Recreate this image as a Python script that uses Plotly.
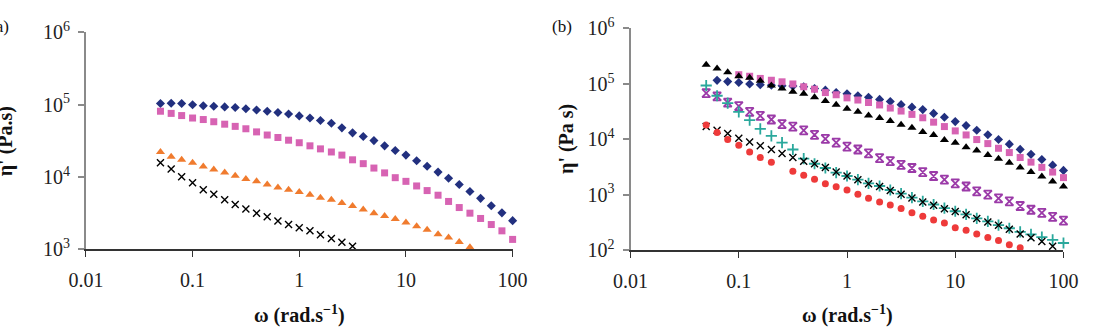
import plotly.graph_objects as go

W, H = 1094, 327

# Angular frequency (rad/s), 10 points per decade
omega = [0.05, 0.063, 0.079, 0.1, 0.126, 0.158, 0.2, 0.251, 0.316, 0.398,
         0.501, 0.631, 0.794, 1.0, 1.26, 1.58, 2.0, 2.51, 3.16, 3.98,
         5.01, 6.31, 7.94, 10.0, 12.6, 15.8, 20.0, 25.1, 31.6, 39.8,
         50.1, 63.1, 79.4, 100.0]

# Panel (a): complex viscosity (Pa.s)
a_diamond = [104000, 105000, 104000, 100000, 97000, 95300, 93300, 91600, 87900, 84500,
             81300, 78200, 74500, 70100, 65500, 60500, 55500, 47900, 40800, 36300,
             31900, 27000, 23300, 20100, 16800, 14100, 11700, 9620, 7890, 6300,
             5070, 4010, 3190, 2490]
a_square = [81300, 75900, 70800, 65500, 62400, 58200, 53800, 50200, 46500, 42100,
            38100, 35200, 32300, 29800, 27000, 24500, 22200, 20100, 17300, 15300,
            13300, 11400, 9790, 8710, 7520, 6490, 5600, 4590, 3780, 3160,
            2670, 2200, 1800, 1370]
a_triangle = [22200, 19100, 17300, 15700, 14000, 12700, 11500, 10400, 9420, 8710,
              7890, 7160, 6680, 6180, 5700, 5180, 4830, 4370, 3980, 3550,
              3160, 2880, 2630, 2340, 2090, 1860, 1620, 1450, 1260, 1070]
a_cross = [15700, 12900, 10100, 8300, 6680, 5770, 4830, 4170, 3600, 3160,
           2810, 2470, 2200, 1990, 1800, 1590, 1410, 1250, 1100, 1000]

# Panel (b): dynamic viscosity eta' (Pa s)
b_diamond = [None, 116000, 110000, 106000, 99800, 96600, 94400, 92300, 91200, 89100,
             82200, 77100, 69700, 66200, 61200, 57400, 52500, 48000, 42200, 38100,
             34400, 29400, 25100, 20900, 17700, 14600, 12100, 9930, 8180, 6590,
             5360, 4320, 3420, 2750]
b_square = [None, None, None, 146600, 137400, 125600, 116400, 109100, 99800, 88700,
            80400, 69700, 63700, 56000, 51200, 46200, 41700, 36700, 32400, 28200,
            24500, 20400, 17000, 14200, 12000, 9910, 8380, 6900, 5770, 4700,
            3880, 3120, 2570, 2040]
b_triangle = [220800, 189700, 162600, 137400, 128800, 113500, 93500, 82200, 72400, 66100,
              57500, 49200, 42200, 35700, 31400, 26900, 24300, 21400, 18300, 16100,
              13600, 12000, 9770, 8710, 7180, 6310, 5210, 4470, 3780, 3120,
              2570, 2140, 1740, 1410]
b_star = [67900, 59700, 46100, 39600, 31400, 26600, 22800, 18800, 17000, 14500,
          12000, 10200, 8710, 7360, 6560, 5560, 4580, 4030, 3450, 3040,
          2570, 2180, 1870, 1600, 1410, 1150, 1010, 863, 760, 627,
          537, 472, 400, 343]
b_plus = [93500, 61200, 45000, 31400, 22200, 15500, 11500, 8710, 6560, 4470,
          3630, 3040, 2510, 2180, 1870, 1600, 1440, 1220, 1050, 887,
          760, 668, 573, 504, 444, 375, 330, 283, 249, 214,
          193, 172, 153, 135]
b_cross = [17000, 14600, 12800, 10500, 8930, 7660, 6560, 5560, 4700, 4030,
           3640, 3090, 2570, 2190, 1860, 1580, 1410, 1200, 1020, 871,
           741, 646, 562, 501, 437, 372, 324, 282, 239, 197,
           167, 143, 118, 99]
b_circle = [18100, 13300, 9910, 7850, 5930, 4700, 3880, None, 2670, 2260,
            1910, 1580, 1390, 1220, 1020, 863, 741, 652, 566, 472,
            410, 352, 310, 255, 230, 197, 169, 149, 126, 111]

x_ticks = [0.01, 0.1, 1, 10, 100]
x_ticktext = ["0.01", "0.1", "1", "10", "100"]
ya_ticks = [1e3, 1e4, 1e5, 1e6]
ya_ticktext = ["10<sup>3</sup>", "10<sup>4</sup>", "10<sup>5</sup>", "10<sup>6</sup>"]
yb_ticks = [1e2, 1e3, 1e4, 1e5, 1e6]
yb_ticktext = ["10<sup>2</sup>", "10<sup>3</sup>", "10<sup>4</sup>", "10<sup>5</sup>", "10<sup>6</sup>"]

NAVY = "#22307f"
PINK = "#d763b3"
ORANGE = "#f07b2e"
BLACK = "#000000"
PURPLE = "#9b3aa8"
TEAL = "#2aa89c"
RED = "#ee3a3a"

fig = go.Figure()

def add(x, y, xa, ya, symbol, color, size, line_w=0, line_color=None):
    m = dict(symbol=symbol, size=size, color=color)
    if line_w:
        m["line"] = dict(width=line_w, color=line_color or color)
    else:
        m["line"] = dict(width=0)
    fig.add_trace(go.Scatter(x=x[:len(y)], y=y, mode="markers", marker=m,
                             xaxis=xa, yaxis=ya, cliponaxis=False,
                             showlegend=False, hoverinfo="skip"))

# Panel (a)
add(omega, a_diamond, "x", "y", "diamond", NAVY, 7)
add(omega, a_square, "x", "y", "square", PINK, 7)
add(omega, a_triangle, "x", "y", "triangle-up", ORANGE, 8)
add(omega, a_cross, "x", "y", "x-thin-open", BLACK, 7, 1.4, BLACK)

# Panel (b)
add(omega, b_diamond, "x2", "y2", "diamond", NAVY, 7)
add(omega, b_square, "x2", "y2", "square", PINK, 7)
add(omega, b_triangle, "x2", "y2", "triangle-up", BLACK, 8)
add(omega, b_star, "x2", "y2", "hourglass-open", PURPLE, 8, 1.8, PURPLE)
add(omega, b_plus, "x2", "y2", "cross-thin-open", TEAL, 8, 1.8, TEAL)
add(omega, b_cross, "x2", "y2", "x-thin-open", BLACK, 7, 1.4, BLACK)
add(omega, b_circle, "x2", "y2", "circle", RED, 7)

FONT = "Liberation Serif"
tickfont = dict(family=FONT, size=20, color="#222222")

def xaxis(dom, anchor):
    return dict(type="log", range=[-2, 2], domain=dom, anchor=anchor,
                showline=True, linecolor="#333333", linewidth=1.5,
                ticks="outside", ticklen=6, tickcolor="#333333", tickwidth=1.2,
                tickvals=x_ticks, ticktext=x_ticktext, tickfont=tickfont,
                ticklabelstandoff=6,
                showgrid=False, zeroline=False)

def yaxis(dom, anchor, rng, tv, tt):
    return dict(type="log", range=rng, domain=dom, anchor=anchor,
                showline=True, linecolor="#8a8a8a", linewidth=2,
                ticks="outside", ticklen=6, tickcolor="#8a8a8a", tickwidth=1.5,
                tickvals=tv, ticktext=tt, tickfont=tickfont,
                ticklabelstandoff=4,
                showgrid=False, zeroline=False)

fig.update_layout(
    width=W, height=H,
    margin=dict(l=0, r=0, t=0, b=0),
    paper_bgcolor="white", plot_bgcolor="white",
    xaxis=xaxis([70 / W, 510 / W], "y"),
    yaxis=yaxis([(H - 255) / H, (H - 21) / H], "x", [3, 6], ya_ticks, ya_ticktext),
    xaxis2=xaxis([631.6 / W, 1078 / W], "y2"),
    yaxis2=yaxis([(H - 256) / H, (H - 16.7) / H], "x2", [2, 6], yb_ticks, yb_ticktext),
)

def ann(text, px, py, size=19, angle=0, xanchor="center", bold=False):
    fig.add_annotation(text=(f"<b>{text}</b>" if bold else text),
                       x=px / W, y=1 - py / H, xref="paper", yref="paper",
                       showarrow=False, textangle=angle, xanchor=xanchor, yanchor="middle",
                       font=dict(family=FONT, size=size, color="#111111"))

ann("ω (rad.s<sup>−1</sup>)", 290, 325, size=20, bold=True)
ann("ω (rad.s<sup>−1</sup>)", 855, 325, size=20, bold=True)
ann("η' (Pa.s)", -12, 138, size=20, angle=-90, bold=True)
ann("η' (Pa s)", 565, 136, size=20, angle=-90, bold=True)
ann("(a)", -7, 15, size=17, xanchor="right")
ann("(b)", 561, 15, size=17)

fig.write_html("out.html")
